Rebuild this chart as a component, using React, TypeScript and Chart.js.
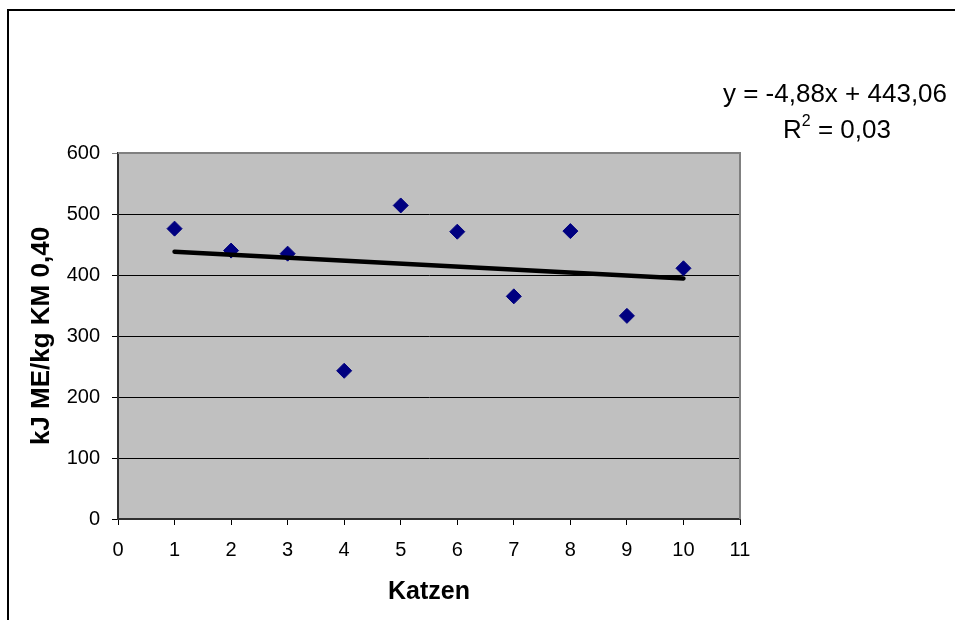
import React, { useEffect, useRef } from "react";
import { Chart, registerables } from "chart.js";

Chart.register(...registerables);

// ---- data ----
const catIndex = [1, 2, 3, 4, 5, 6, 7, 8, 9, 10];
const energyValues = [476, 440, 435, 243, 514, 471, 365, 472, 333, 411];
const trendX = [1, 10];
const trendY = [438.18, 394.26];
const xRange = [0, 11];
const yRange = [0, 600];
const xStep = 1;
const yStep = 100;
const equationLine = "y = -4,88x + 443,06";
const r2Parts = ["R", "2", " = 0,03"];
const xTitle = "Katzen";
const yTitle = "kJ ME/kg KM 0,40";

const FONT = "Arial, 'Liberation Sans', sans-serif";

const decoPlugin = {
  id: "deco",
  beforeDraw(chart: any) {
    const { ctx, chartArea } = chart;
    ctx.save();
    ctx.fillStyle = "#ffffff";
    ctx.fillRect(0, 0, chart.width, chart.height);
    // outer chart border (cropped: only left and top visible)
    ctx.fillStyle = "#000000";
    ctx.fillRect(7, 9, 2, chart.height);
    ctx.fillRect(7, 9, chart.width, 2);
    // plot area
    ctx.fillStyle = "#c0c0c0";
    ctx.fillRect(
      chartArea.left,
      chartArea.top,
      chartArea.right - chartArea.left,
      chartArea.bottom - chartArea.top
    );
    ctx.restore();
  },
  beforeDatasetsDraw(chart: any) {
    const { ctx, chartArea } = chart;
    ctx.save();
    ctx.strokeStyle = "#808080";
    ctx.lineWidth = 2;
    ctx.beginPath();
    ctx.moveTo(chartArea.left, chartArea.top);
    ctx.lineTo(chartArea.right, chartArea.top);
    ctx.lineTo(chartArea.right, chartArea.bottom);
    ctx.stroke();
    ctx.restore();
  },
  afterDraw(chart: any) {
    const { ctx } = chart;
    ctx.save();
    ctx.fillStyle = "#000000";
    ctx.textBaseline = "alphabetic";
    ctx.font = `26px ${FONT}`;
    ctx.textAlign = "center";
    ctx.fillText(equationLine, 835, 102);
    // R² line
    ctx.textAlign = "left";
    const big = `26px ${FONT}`;
    const small = `16px ${FONT}`;
    ctx.font = big;
    const wR = ctx.measureText(r2Parts[0]).width;
    const wRest = ctx.measureText(r2Parts[2]).width;
    ctx.font = small;
    const wSup = ctx.measureText(r2Parts[1]).width;
    const total = wR + wSup + wRest;
    let x = 837 - total / 2;
    ctx.font = big;
    ctx.fillText(r2Parts[0], x, 138);
    x += wR;
    ctx.font = small;
    ctx.fillText(r2Parts[1], x, 126);
    x += wSup;
    ctx.font = big;
    ctx.fillText(r2Parts[2], x, 138);
    ctx.restore();
  },
};

export default function App() {
  const ref = useRef<HTMLCanvasElement | null>(null);

  useEffect(() => {
    if (!ref.current) return;
    const chart = new Chart(ref.current, {
      type: "scatter",
      data: {
        datasets: [
          {
            label: "Trend",
            data: trendX.map((x, i) => ({ x, y: trendY[i] })),
            showLine: true,
            borderColor: "#000000",
            borderWidth: 4.5,
            borderCapStyle: "round",
            pointRadius: 0,
            order: 0,
          },
          {
            label: "Katzen",
            data: catIndex.map((x, i) => ({ x, y: energyValues[i] })),
            pointStyle: "rectRot",
            pointRadius: 7.5,
            backgroundColor: "#000080",
            borderColor: "#000080",
            borderWidth: 1,
            order: 1,
          },
        ],
      },
      options: {
        animation: false,
        responsive: false,
        devicePixelRatio: 1,
        layout: { padding: { top: 153, right: 215, left: 0, bottom: 0 } },
        plugins: {
          legend: { display: false },
          tooltip: { enabled: false },
        },
        scales: {
          x: {
            type: "linear",
            min: xRange[0],
            max: xRange[1],
            ticks: {
              stepSize: xStep,
              color: "#000000",
              font: { family: FONT, size: 20 },
              padding: 13,
              maxRotation: 0,
              autoSkip: false,
            },
            grid: {
              drawOnChartArea: false,
              drawTicks: true,
              tickLength: 6,
              color: "#000000",
              lineWidth: 1,
            },
            border: { display: true, color: "#303030", width: 2 },
            title: {
              display: true,
              text: xTitle,
              color: "#000000",
              font: { family: FONT, size: 25, weight: "bold" },
              padding: { top: 0, bottom: 13 },
            },
            afterFit(scale: any) {
              scale.height = 101;
            },
          },
          y: {
            type: "linear",
            min: yRange[0],
            max: yRange[1],
            ticks: {
              stepSize: yStep,
              color: "#000000",
              font: { family: FONT, size: 20 },
              padding: 12,
            },
            grid: {
              drawTicks: true,
              tickLength: 6,
              color: (c: any) =>
                c.tick && c.tick.value === yRange[1] ? "#808080" : "#000000",
              lineWidth: 1,
            },
            border: { display: true, color: "#303030", width: 2 },
            title: {
              display: true,
              text: yTitle,
              color: "#000000",
              font: { family: FONT, size: 26, weight: "bold" },
              padding: { top: 26, bottom: 0 },
            },
            afterFit(scale: any) {
              scale.width = 118;
            },
          },
        },
      },
      plugins: [decoPlugin],
    });
    return () => chart.destroy();
  }, []);

  return (
    <div
      style={{
        position: "fixed",
        left: 0,
        top: 0,
        width: 955,
        height: 620,
        overflow: "hidden",
        background: "#ffffff",
      }}
    >
      <canvas ref={ref} width={955} height={620} style={{ display: "block" }} />
    </div>
  );
}
